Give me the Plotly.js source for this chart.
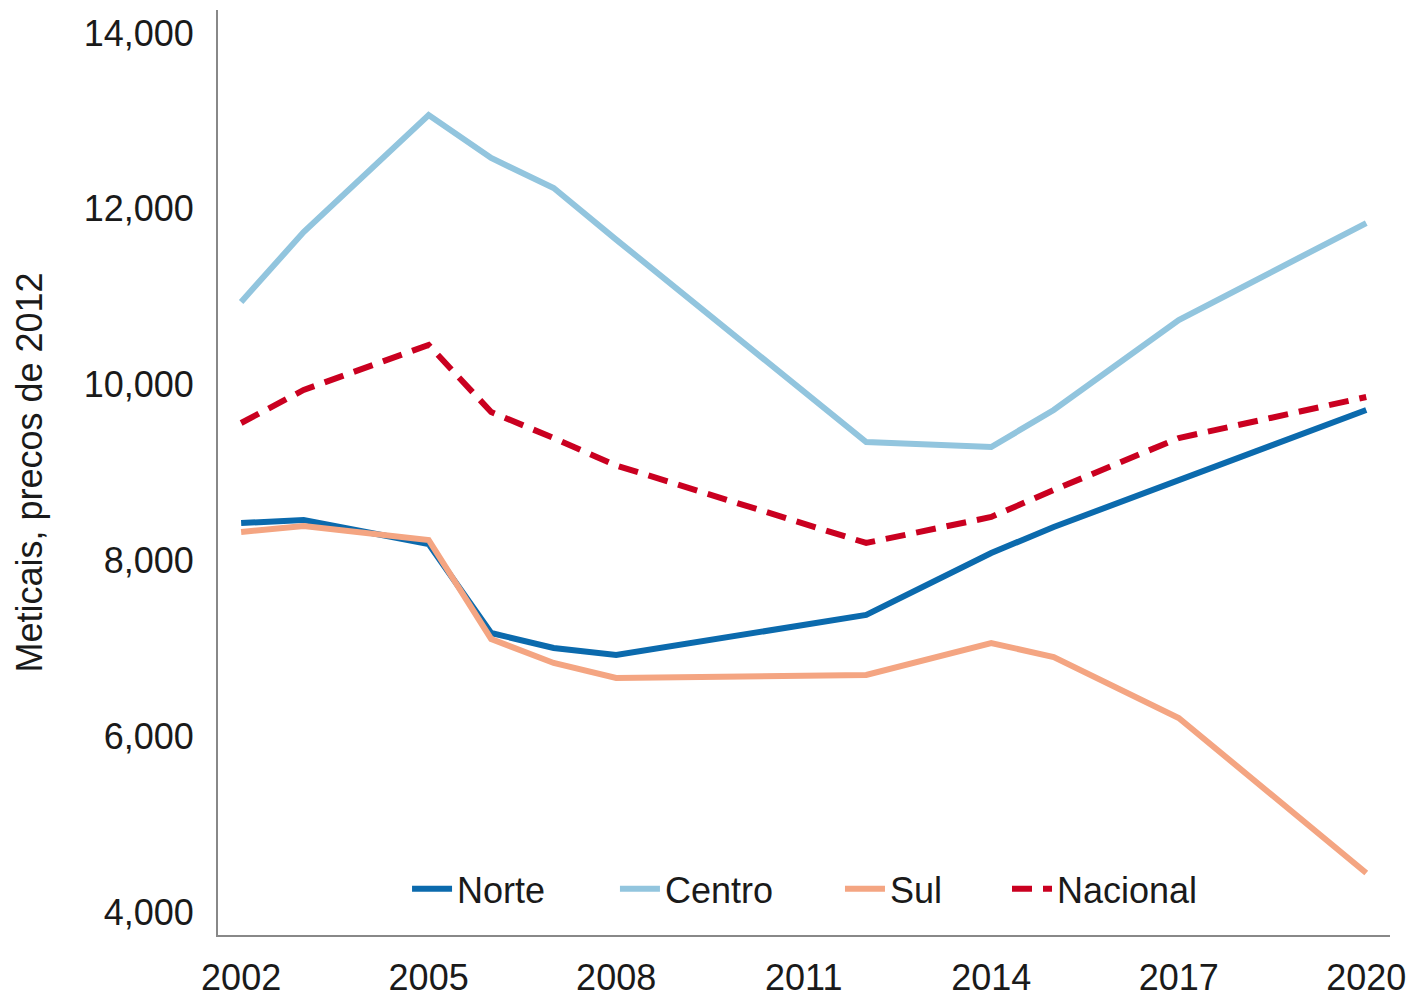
<!DOCTYPE html>
<html>
<head>
<meta charset="utf-8">
<script src="https://cdn.plot.ly/plotly-3.0.1.min.js"></script>
<style>html,body{margin:0;padding:0;background:#fff;}#chart{width:1411px;height:996px;}</style>
</head>
<body>
<div id="chart"></div>
<script>
const years = [2002, 2003, 2005, 2006, 2007, 2008, 2012, 2014, 2015, 2017, 2020];
const norte = [8425, 8460, 8187, 7174, 7003, 6924, 7379, 8084, 8380, 8915, 9711];
const centro = [10940, 11736, 13067, 12578, 12237, 11650, 9347, 9290, 9711, 10735, 11838];
const sul = [8323, 8391, 8232, 7106, 6833, 6662, 6696, 7060, 6901, 6207, 4444];
const nacional = [9563, 9939, 10451, 9688, 9392, 9080, 8198, 8494, 8801, 9392, 9859];
const seriesNames = ["Norte", "Centro", "Sul", "Nacional"];
const yTitle = "Meticais, precos de 2012";

const font = "Liberation Sans, Arial, sans-serif";
const txt = "#1a1a1a";
const fs = 36;
const traces = [
  {x: years, y: norte, name: seriesNames[0], legend: "legend", mode: "lines", line: {color: "#0b6aad", width: 6}},
  {x: years, y: centro, name: seriesNames[1], legend: "legend2", mode: "lines", line: {color: "#92c5de", width: 6}},
  {x: years, y: sul, name: seriesNames[2], legend: "legend3", mode: "lines", line: {color: "#f4a582", width: 6}},
  {x: years, y: nacional, name: seriesNames[3], legend: "legend4", mode: "lines", line: {color: "#ca0020", width: 6, dash: "20px,11px"}}
];
function leg(x) {
  return {orientation: "h", x: x, xanchor: "left", y: 0.05, yanchor: "middle",
          font: {family: font, size: fs, color: txt}, bgcolor: "rgba(0,0,0,0)", itemwidth: 40};
}
const layout = {
  width: 1411, height: 996,
  margin: {l: 218, r: 21, t: 10, b: 61},
  paper_bgcolor: "#fff", plot_bgcolor: "#fff",
  font: {family: font, size: fs, color: txt},
  showlegend: true,
  legend: leg(0.1613), legend2: leg(0.3387), legend3: leg(0.5307), legend4: leg(0.6732),
  xaxis: {range: [2001.63, 2020.38], tickmode: "linear", tick0: 2002, dtick: 3,
          showgrid: false, zeroline: false, showline: true, linecolor: "#888", linewidth: 2,
          ticks: "outside", ticklen: 10, tickcolor: "rgba(0,0,0,0)",
          tickfont: {family: font, size: fs, color: txt}},
  yaxis: {range: [3738, 14262], tickmode: "array", tickvals: [4000, 6000, 8000, 10000, 12000, 14000],
          tickformat: ",d",
          showgrid: false, zeroline: false, showline: true, linecolor: "#888", linewidth: 2,
          ticks: "outside", ticklen: 15, tickcolor: "rgba(0,0,0,0)",
          tickfont: {family: font, size: fs, color: txt},
          title: {text: yTitle, font: {family: font, size: fs, color: txt}, standoff: 30}}
};
Plotly.newPlot("chart", traces, layout, {displayModeBar: false, staticPlot: true});
</script>
</body>
</html>
